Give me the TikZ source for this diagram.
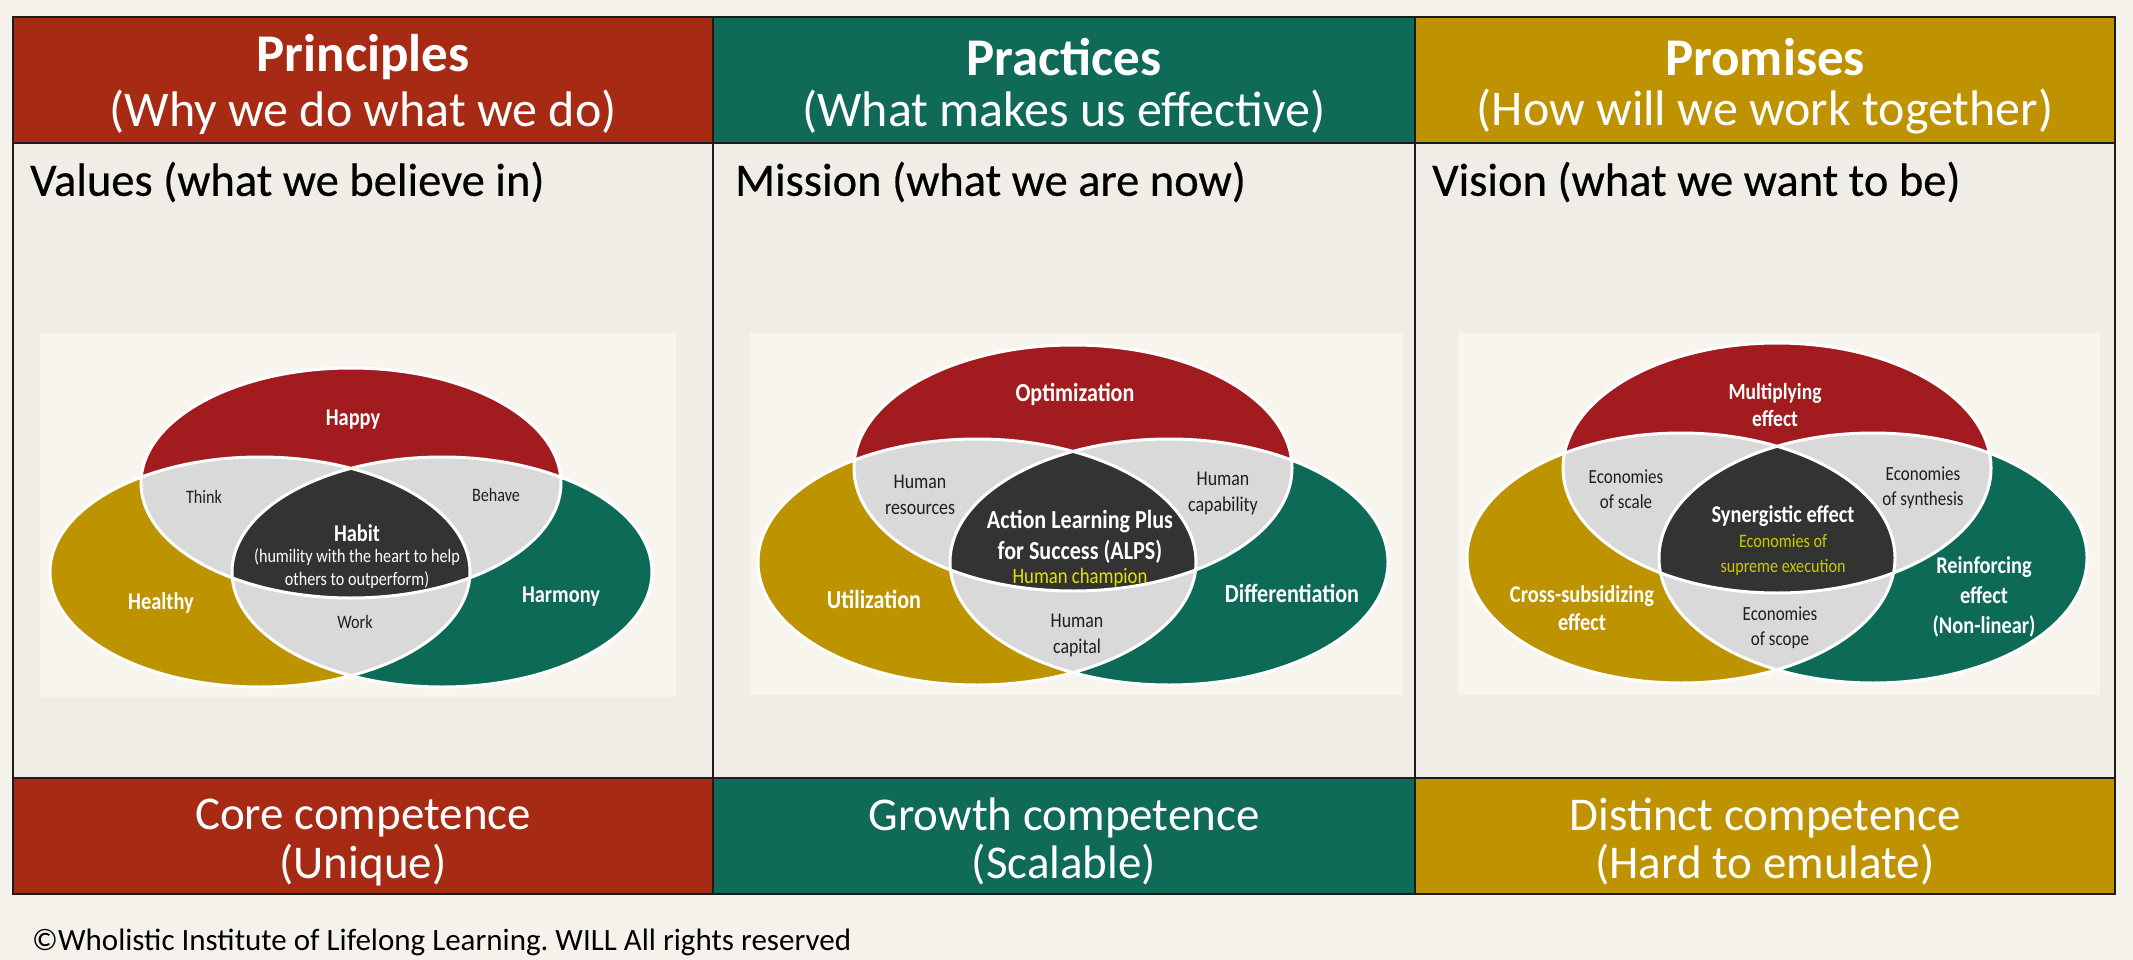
\documentclass[tikz,border=0pt]{standalone}
\usepackage{fontspec}
\setmainfont{Carlito}
\newfontfamily\vfont[FakeStretch=0.85]{Carlito}
\newfontfamily\headfont[FakeBold=0.5]{Carlito}
\definecolor{pagebg}{HTML}{F5F2EC}
\definecolor{cellbg}{HTML}{F0EDE6}
\definecolor{imgbg}{HTML}{F8F5EF}
\definecolor{hred}{HTML}{A72A14}
\definecolor{hgreen}{HTML}{0F6B58}
\definecolor{hgold}{HTML}{BE9200}
\definecolor{vred}{HTML}{A21B1F}
\definecolor{vgold}{HTML}{BE9300}
\definecolor{vgreen}{HTML}{0D6A57}
\definecolor{vgray}{HTML}{D9D9D9}
\definecolor{vdark}{HTML}{333333}
\definecolor{vyell}{HTML}{E2E400}
\definecolor{vyelltwo}{HTML}{CACA00}
\definecolor{edgecol}{HTML}{1C1C1C}
\definecolor{subtxt}{HTML}{1E1E1E}
\newcommand\fs[2]{\fontsize{#1}{#2}\selectfont}
% #1 red cx, #2 red cy, #3 dx, #4 lower cy, #5 a, #6 b, #7 prefix
\newcommand\vennthree[7]{%
  \coordinate (#7R) at (#1,#2);
  \coordinate (#7Y) at ({#1-#3},#4);
  \coordinate (#7G) at ({#1+#3},#4);
  \fill[vgold] (#7Y) ellipse [x radius=#5, y radius=#6];
  \fill[vgreen] (#7G) ellipse [x radius=#5, y radius=#6];
  \fill[vred] (#7R) ellipse [x radius=#5, y radius=#6];
  \begin{scope}
    \clip (#7R) ellipse [x radius=#5, y radius=#6];
    \fill[vgray] (#7Y) ellipse [x radius=#5, y radius=#6];
    \fill[vgray] (#7G) ellipse [x radius=#5, y radius=#6];
  \end{scope}
  \begin{scope}
    \clip (#7Y) ellipse [x radius=#5, y radius=#6];
    \fill[vgray] (#7G) ellipse [x radius=#5, y radius=#6];
  \end{scope}
  \begin{scope}
    \clip (#7R) ellipse [x radius=#5, y radius=#6];
    \clip (#7Y) ellipse [x radius=#5, y radius=#6];
    \fill[vdark] (#7G) ellipse [x radius=#5, y radius=#6];
  \end{scope}
  \draw[white, line width=3pt] (#7R) ellipse [x radius=#5, y radius=#6]
     (#7Y) ellipse [x radius=#5, y radius=#6]
     (#7G) ellipse [x radius=#5, y radius=#6];
}
\tikzset{
  txt/.style={inner sep=0pt, align=center},
  hdrtitle/.style={txt, text=white, font=\fs{53}{60}\bfseries},
  hdrsub/.style={txt, text=white, font=\fs{50}{58}},
  bodyhead/.style={txt, anchor=west, text=black, font=\headfont\fs{46.5}{54}},
  foottxt/.style={txt, text=white, font=\fs{47}{48}},
  vmainA/.style={txt, text=white, font=\vfont\bfseries\fs{24}{28}},
  vsubA/.style={txt, text=subtxt, font=\vfont\fs{19}{23}},
  vmainB/.style={txt, text=white, font=\vfont\bfseries\fs{26}{31}},
  vsubB/.style={txt, text=subtxt, font=\vfont\fs{21}{26}},
  vmainC/.style={txt, text=white, font=\vfont\bfseries\fs{24}{29}},
  vsubC/.style={txt, text=subtxt, font=\vfont\fs{20}{25}},
}
\begin{document}
\begin{tikzpicture}[x=1pt, y=-1pt]
\useasboundingbox (0,0) rectangle (2133,960);
\fill[pagebg] (0,0) rectangle (2133,960);
% body cells
\fill[cellbg] (13,143) rectangle (2115,778);
% picture backgrounds
\fill[imgbg] (40,333) rectangle (676,697);
\fill[imgbg] (750,333) rectangle (1403,695);
\fill[imgbg] (1458,333) rectangle (2100,695);
% headers
\fill[hred] (13,17) rectangle (713,143);
\fill[hgreen] (713,17) rectangle (1415,143);
\fill[hgold] (1415,17) rectangle (2115,143);
% footers
\fill[hred] (13,778) rectangle (713,894);
\fill[hgreen] (713,778) rectangle (1415,894);
\fill[hgold] (1415,778) rectangle (2115,894);
% grid
\draw[edgecol, line width=2.5pt] (13,17) rectangle (2115,894);
\draw[edgecol, line width=2.5pt] (13,143) -- (2115,143);
\draw[edgecol, line width=2.5pt] (13,778) -- (2115,778);
\draw[edgecol, line width=2.5pt] (713,17) -- (713,894);
\draw[edgecol, line width=2.5pt] (1415,17) -- (1415,894);

% header texts
\node[hdrtitle] (t1) at (363,57) {Principles};
\node[hdrsub] (s1) at (363,112) {(Why we do what we do)};
\node[hdrtitle] (t2) at (1064,57) {Practices};
\node[hdrsub] (s2) at (1064,112) {(What makes us effective)};
\node[hdrtitle] (t3) at (1765,57) {Promises};
\node[hdrsub] (s3) at (1765,112) {(How will we work together)};

% body headings
\node[bodyhead] (b1) at (30,182) {Values (what we believe in)};
\node[bodyhead] (b2) at (735,182) {Mission (what we are now)};
\node[bodyhead] (b3) at (1432,182) {Vision (what we want to be)};

% footer texts
\node[foottxt] (f1a) at (363,818) {Core competence};
\node[foottxt] (f1b) at (363,865) {(Unique)};
\node[foottxt] (f2a) at (1064,818) {Growth competence};
\node[foottxt] (f2b) at (1064,865) {(Scalable)};
\node[foottxt] (f3a) at (1765,818) {Distinct competence};
\node[foottxt] (f3b) at (1765,865) {(Hard to emulate)};

% copyright
\node[txt, anchor=west, text=black, font=\fs{31}{36}] (copy) at (32,942)
  {\frenchspacing ©Wholistic Institute of Lifelong Learning. WILL All rights reserved};

% ---------- Venn 1 ----------
\vennthree{351}{483}{91}{572}{210}{115}{a}
\node[vmainA] (happy) at (353,420) {Happy};
\node[vsubA] (think) at (204,497) {Think};
\node[vsubA] (behave) at (496,495) {Behave};
\node[vmainA] (habit) at (357,533) {Habit};
\node[txt, text=white, font=\vfont\fs{19}{23}] (humil) at (357,568.5)
  {(humility with the heart to help\\others to outperform)};
\node[vmainA] (healthy) at (161,603) {Healthy};
\node[vsubA] (work) at (355,622) {Work};
\node[vmainA] (harmony) at (561,597) {Harmony};

% ---------- Venn 2 ----------
\vennthree{1073}{468}{96}{562}{219}{123}{b}
\node[vmainB] (optim) at (1075,394) {Optimization};
\node[vsubB] (hres) at (920,495) {Human\\resources};
\node[vsubB] (hcapab) at (1223,493) {Human\\capability};
\node[vmainB] (alps) at (1080,537) {Action Learning Plus\\for Success (ALPS)};
\node[txt, text=vyell, font=\vfont\fs{22}{26}] (champ) at (1080,578) {Human champion};
\node[vmainB] (util) at (874,599) {Utilization};
\node[vmainB] (diff) at (1292,593) {Differentiation};
\node[vsubB] (hcapit) at (1077,635) {Human\\capital};

% ---------- Venn 3 ----------
\vennthree{1777}{468}{96}{558}{214}{125}{c}
\node[txt, text=white, font=\vfont\bfseries\fs{23}{27}] (multi) at (1775,405) {Multiplying\\effect};
\node[vsubC] (escale) at (1626,489) {Economies\\of scale};
\node[vsubC] (esynth) at (1923,488) {Economies\\of synthesis};
\node[vmainC] (syn) at (1783,516) {Synergistic effect};
\node[txt, text=vyelltwo, font=\vfont\fs{19}{25}] (supreme) at (1783,555) {Economies of\\supreme execution};
\node[txt, text=white, font=\vfont\bfseries\fs{24}{28}] (cross) at (1582,608) {Cross-subsidizing\\effect};
\node[vsubC] (escope) at (1780,628) {Economies\\of scope};
\node[txt, text=white, font=\vfont\bfseries\fs{24}{30}] (reinf) at (1984,597) {Reinforcing\\effect\\(Non-linear)};
\end{tikzpicture}
\end{document}
